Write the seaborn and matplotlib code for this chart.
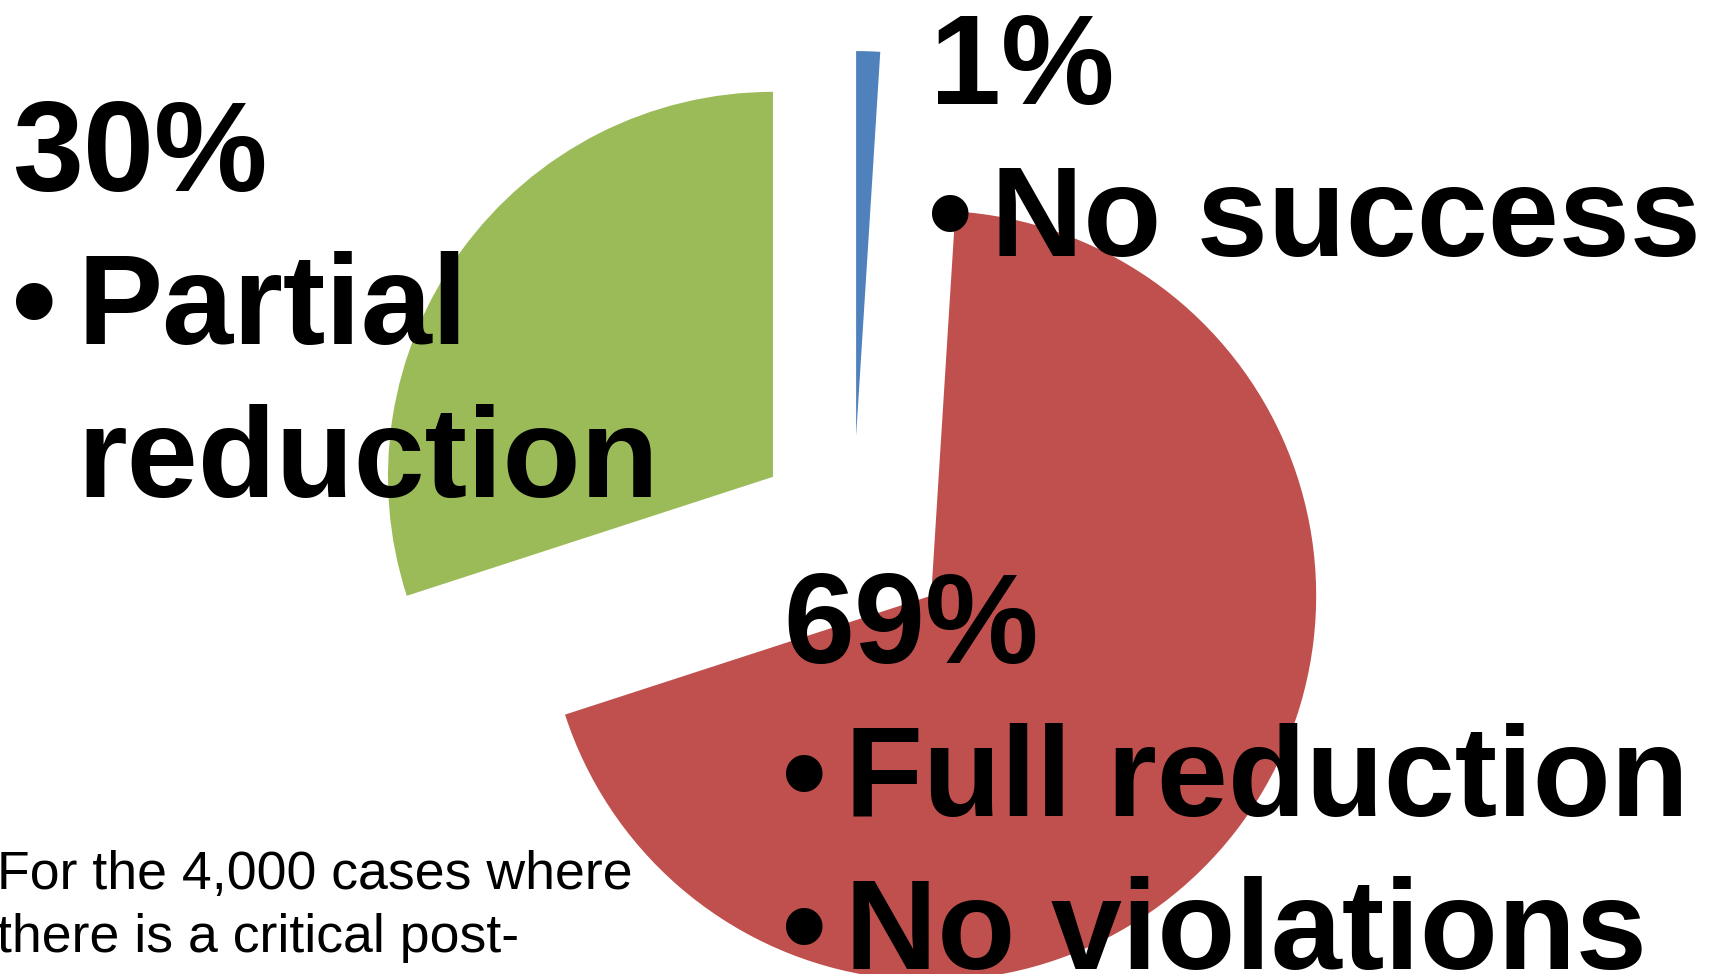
import matplotlib
matplotlib.use("Agg")
import matplotlib.pyplot as plt
import seaborn as sns

# ---- data ----
categories = ["No success", "Full reduction", "Partial reduction"]
shares = [1, 69, 30]
pct_labels = ["1%", "69%", "30%"]
bullet_lines = [["No success"], ["Full reduction", "No violations"], ["Partial", "reduction"]]
note_lines = ["For the 4,000 cases where", "there is a critical post-"]

colors = ["#4F81BD", "#C0504D", "#9BBB59"]

sns.set_theme(style="white")
plt.rcParams["font.family"] = ["Liberation Sans", "DejaVu Sans"]

W, H = 1710, 974
fig = plt.figure(figsize=(W / 100, H / 100), dpi=100)
ax = fig.add_axes([0, 0, 1, 1])

R_PX = 385.0
CX, CY = 853.0, 535.0  # pixel position of pie centre (y from top)

ax.pie(shares, colors=colors, startangle=90, counterclock=False,
       explode=[0.257] * len(shares), radius=1.0, center=(0, 0),
       wedgeprops=dict(linewidth=0, antialiased=True))
ax.set_aspect("auto")
ax.set_xlim(-CX / R_PX, (W - CX) / R_PX)
ax.set_ylim(-(H - CY) / R_PX, CY / R_PX)
ax.axis("off")


def ftxt(x, y, s, **kw):
    fig.text(x / W, 1 - y / H, s, ha="left", va="baseline", color="black", **kw)


BIG = 92
# label blocks: (pct x, pct baseline, bullet x, text x, first bullet baseline)
blocks = [
    (930, 104, 928, 991, 256),   # No success
    (783, 663, 782, 845, 816),   # Full reduction
    (12, 191, 12, 77, 344),      # Partial reduction
]
LINE = 153
for i, (px, pb, bx, tx, b0) in enumerate(blocks):
    ftxt(px, pb, pct_labels[i], fontsize=BIG, fontweight="bold")
    lines = bullet_lines[i]
    if i == 2:
        ftxt(bx, b0, "\u2022", fontsize=BIG, fontweight="bold")
        for j, ln in enumerate(lines):
            ftxt(tx, b0 + j * LINE, ln, fontsize=BIG, fontweight="bold")
    else:
        for j, ln in enumerate(lines):
            ftxt(bx, b0 + j * LINE, "\u2022", fontsize=BIG, fontweight="bold")
            ftxt(tx, b0 + j * LINE, ln, fontsize=BIG, fontweight="bold")

for j, ln in enumerate(note_lines):
    ftxt(-3, 889 + j * 63, ln, fontsize=38.6)

fig.savefig("out.png", dpi=100, facecolor="white")
